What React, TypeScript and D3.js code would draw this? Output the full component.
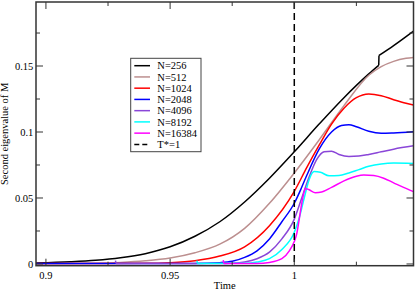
import React from 'react';
import * as d3 from 'd3';

// [time, eigenvalue]
const n256: [number, number][] = [
  [0.896, 0.0008], [0.91, 0.0017], [0.92, 0.0028], [0.93, 0.0047], [0.94, 0.0078],
  [0.95, 0.013], [0.96, 0.021], [0.97, 0.032], [0.98, 0.047], [0.99, 0.065],
  [1.0, 0.085], [1.01, 0.106], [1.02, 0.126], [1.03, 0.144], [1.034, 0.1505],
  [1.0341, 0.158], [1.04, 0.1655], [1.048, 0.1765],
];
const n512: [number, number][] = [
  [0.896, 0.0002], [0.92, 0.0006], [0.93, 0.0012], [0.94, 0.0024], [0.95, 0.0045],
  [0.96, 0.0085], [0.97, 0.015], [0.98, 0.027], [0.99, 0.046], [1.0, 0.069],
  [1.01, 0.094], [1.02, 0.12], [1.03, 0.143], [1.035, 0.1495], [1.04, 0.1535],
  [1.045, 0.1558], [1.048, 0.1565],
];
const n1024: [number, number][] = [
  [0.896, 0.0003], [0.94, 0.0005], [0.95, 0.001], [0.96, 0.0025], [0.97, 0.006],
  [0.98, 0.013], [0.99, 0.029], [1.0, 0.055], [1.005, 0.073], [1.01, 0.09],
  [1.015, 0.106], [1.02, 0.118], [1.025, 0.126], [1.03, 0.1288], [1.035, 0.1275],
  [1.04, 0.1245], [1.045, 0.1218], [1.048, 0.1205],
];
const n2048: [number, number][] = [
  [0.896, 0.0003], [0.96, 0.0004], [0.97, 0.001], [0.975, 0.002], [0.98, 0.005],
  [0.985, 0.01], [0.99, 0.019], [0.995, 0.032], [1.0, 0.046], [1.0025, 0.056],
  [1.005, 0.067], [1.01, 0.087], [1.015, 0.1], [1.019, 0.105], [1.022, 0.1055],
  [1.025, 0.104], [1.03, 0.1005], [1.035, 0.099], [1.04, 0.0993], [1.048, 0.1002],
];
const n4096: [number, number][] = [
  [0.928, 0.0025], [0.9282, 0.0004], [0.97, 0.0004], [0.975, 0.0006], [0.98, 0.0015],
  [0.985, 0.004], [0.99, 0.009], [0.995, 0.019], [1.0, 0.034], [1.003, 0.05],
  [1.006, 0.066], [1.009, 0.079], [1.012, 0.085], [1.015, 0.0855], [1.018, 0.083],
  [1.022, 0.0815], [1.026, 0.0818], [1.03, 0.083], [1.035, 0.085], [1.04, 0.087],
  [1.048, 0.0895],
];
const n8192: [number, number][] = [
  [0.9608, 0.0025], [0.961, 0.0004], [0.98, 0.0005], [0.985, 0.0015], [0.99, 0.004],
  [0.995, 0.011], [1.0, 0.024], [1.002, 0.035], [1.004, 0.05], [1.006, 0.064],
  [1.008, 0.07], [1.0105, 0.0695], [1.014, 0.0668], [1.018, 0.067], [1.022, 0.069],
  [1.026, 0.0715], [1.03, 0.074], [1.035, 0.0758], [1.04, 0.0765], [1.048, 0.0762],
];
const n16384: [number, number][] = [
  [0.9714, 0.003], [0.9716, 0.0004], [0.985, 0.0004], [0.99, 0.0012], [0.995, 0.004],
  [0.998, 0.01], [1.0, 0.017], [1.001, 0.023], [1.002, 0.034], [1.003, 0.046],
  [1.004, 0.055], [1.0045, 0.0573], [1.006, 0.0562], [1.0085, 0.054], [1.011, 0.0545],
  [1.015, 0.058], [1.02, 0.063], [1.025, 0.0665], [1.028, 0.0674], [1.032, 0.067],
  [1.036, 0.065], [1.04, 0.0615], [1.044, 0.058], [1.048, 0.0548],
];

const seriesNames = ['N=256', 'N=512', 'N=1024', 'N=2048', 'N=4096', 'N=8192', 'N=16384'];
const seriesData = [n256, n512, n1024, n2048, n4096, n8192, n16384];
const seriesColors = ['#000000', '#bc8f8f', '#ff0000', '#0000ff', '#8a46d8', '#00ffff', '#ff00ff'];
const criticalTime = 1;
const criticalLabel = 'T*=1';

const xMajor = [0.9, 0.95, 1.0];
const xMinor = [0.925, 0.975, 1.025];
const xLabels = ['0.9', '0.95', '1'];
const yMajor = [0, 0.05, 0.1, 0.15];
const yMinor = [0.025, 0.075, 0.125, 0.175];
const yLabels = ['0', '0.05', '0.1', '0.15'];

const W = 415, H = 290;
const left = 36, right = 413.5, top = 2, bottom = 265.7;
const font = '"Liberation Serif", "Times New Roman", serif';

// split a series where it jumps (almost same time), so the smooth curve does not overshoot
function splitJumps(s: [number, number][]) {
  const parts: [number, number][][] = [[s[0]]];
  for (let i = 1; i < s.length; i++) {
    if (s[i][0] - s[i - 1][0] < 0.0005) parts.push([s[i - 1], s[i]], [s[i]]);
    else parts[parts.length - 1].push(s[i]);
  }
  return parts.filter(p => p.length > 1);
}

export default function App() {
  const x = d3.scaleLinear().domain([0.896, 1.048]).range([left, right]);
  const y = d3.scaleLinear().domain([-0.0013, 0.1985]).range([bottom, top]);
  const line = d3.line<[number, number]>()
    .x(d => x(d[0]))
    .y(d => y(d[1]))
    .curve(d3.curveMonotoneX);

  const legX = 130.7, legY = 58.3, legW = 70.3, legH = 93.4, legStep = 11.24;

  return (
    <svg width={W} height={H} style={{ position: 'absolute', left: 0, top: 0 }} fontFamily={font}>
      <rect x={0} y={0} width={W} height={H} fill="#fff" />
      <defs>
        <clipPath id="plot">
          <rect x={left} y={top} width={right - left} height={bottom - top} />
        </clipPath>
      </defs>

      {/* curves */}
      <g clipPath="url(#plot)" fill="none" strokeWidth={1.5} strokeLinejoin="round">
        {seriesData.map((s, i) => (
          <path key={i} d={splitJumps(s).map(p => line(p)).join('')} stroke={seriesColors[i]} />
        ))}
        <line x1={x(criticalTime)} x2={x(criticalTime)} y1={top} y2={bottom}
          stroke="#000" strokeWidth={1.5} strokeDasharray="7,4" />
      </g>

      {/* frame and ticks */}
      <rect x={left} y={top} width={right - left} height={bottom - top} fill="none" stroke="#333" strokeWidth={1.5} />
      <g stroke="#333" strokeWidth={1}>
        {xMajor.map(v => (
          <g key={'xM' + v}>
            <line x1={x(v)} x2={x(v)} y1={bottom} y2={bottom - 7} />
            <line x1={x(v)} x2={x(v)} y1={top} y2={top + 7} />
          </g>
        ))}
        {xMinor.map(v => (
          <g key={'xm' + v}>
            <line x1={x(v)} x2={x(v)} y1={bottom} y2={bottom - 4} />
            <line x1={x(v)} x2={x(v)} y1={top} y2={top + 4} />
          </g>
        ))}
        {yMajor.map(v => (
          <g key={'yM' + v}>
            <line x1={left} x2={left + 7} y1={y(v)} y2={y(v)} />
            <line x1={right} x2={right - 7} y1={y(v)} y2={y(v)} />
          </g>
        ))}
        {yMinor.map(v => (
          <g key={'ym' + v}>
            <line x1={left} x2={left + 4} y1={y(v)} y2={y(v)} />
            <line x1={right} x2={right - 4} y1={y(v)} y2={y(v)} />
          </g>
        ))}
      </g>

      {/* tick labels */}
      <g fontSize={10.5} fill="#000">
        {xMajor.map((v, i) => (
          <text key={'xl' + v} x={x(v)} y={278.5} textAnchor="middle">{xLabels[i]}</text>
        ))}
        {yMajor.map((v, i) => (
          <text key={'yl' + v} x={33.3} y={y(v) + 3.6} textAnchor="end">{yLabels[i]}</text>
        ))}
        <text x={(left + right) / 2} y={288.5} textAnchor="middle">Time</text>
        <text transform={`translate(8.2,${(top + bottom) / 2}) rotate(-90)`} textAnchor="middle">Second eigenvalue of M</text>
      </g>

      {/* legend */}
      <g>
        <rect x={legX} y={legY} width={legW} height={legH} fill="#fff" stroke="#444" strokeWidth={1} />
        {seriesNames.map((n, i) => (
          <g key={n}>
            <line x1={134.3} x2={150} y1={65.7 + i * legStep} y2={65.7 + i * legStep}
              stroke={seriesColors[i]} strokeWidth={1.5} />
            <text x={157.3} y={65.7 + i * legStep + 3.6} fontSize={10.5}>{n}</text>
          </g>
        ))}
        <line x1={134.3} x2={150} y1={65.7 + 7 * legStep} y2={65.7 + 7 * legStep}
          stroke="#000" strokeWidth={1.5} strokeDasharray="5,3" />
        <text x={157.3} y={65.7 + 7 * legStep + 3.6} fontSize={10.5}>{criticalLabel}</text>
      </g>
    </svg>
  );
}
